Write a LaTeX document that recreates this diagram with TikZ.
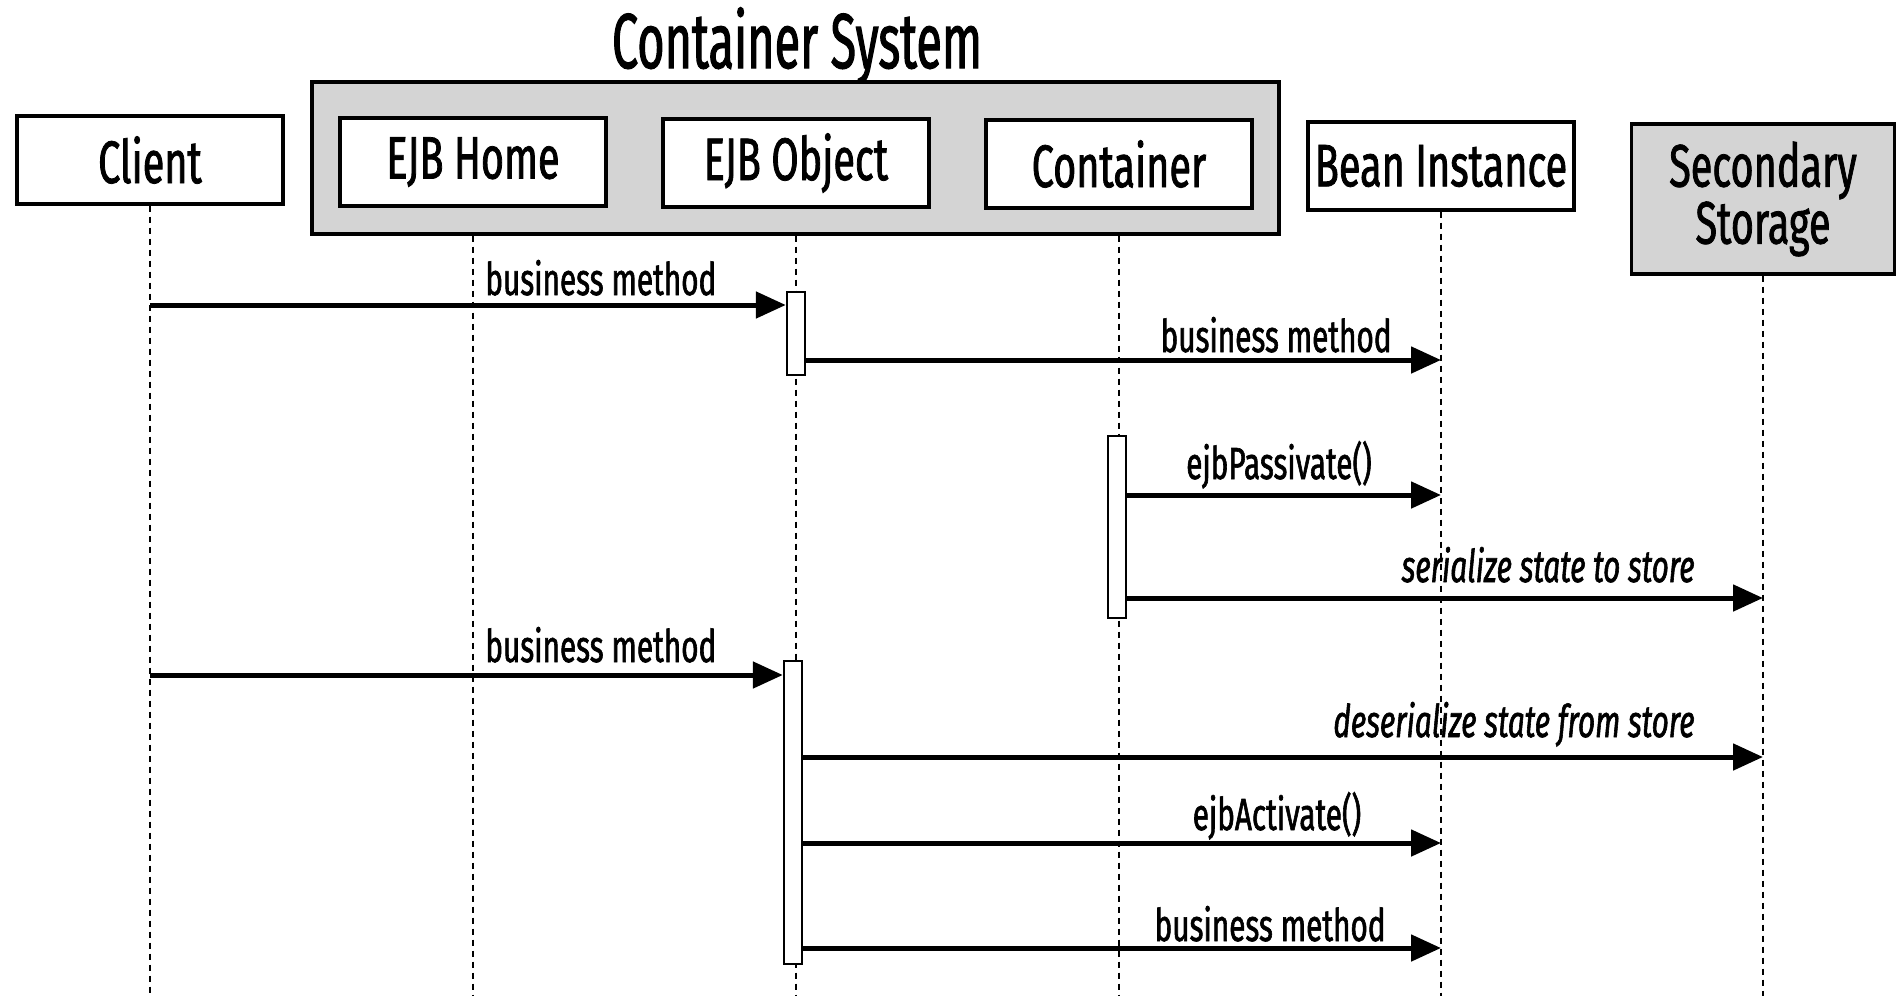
\documentclass[tikz,border=0pt]{standalone}
\usepackage{fontspec}
\setmainfont{Fira Sans}[FakeStretch=0.66, FakeBold=1.3]
\newfontfamily\titlefont{Fira Sans}[FakeStretch=0.6, FakeBold=1.3]
\usetikzlibrary{arrows.meta}
\definecolor{boxgray}{RGB}{212,212,212}
\begin{document}
\begin{tikzpicture}[x=0.5pt,y=-0.5pt,
  obj/.style={draw, line width=1.6pt, fill=white, minimum width=133pt, minimum height=44pt, inner sep=0pt, font=\fontsize{30}{31}\selectfont},
  frame/.style={draw, line width=1.6pt, fill=boxgray, inner sep=0pt},
  life/.style={line width=0.8pt, dash pattern=on 3pt off 2.5pt},
  act/.style={draw, line width=1.2pt, fill=white, minimum width=9pt, inner sep=0pt},
  msg/.style={line width=2.5pt, -{Triangle[length=15pt,width=13pt]}},
  lbl/.style={font=\fontsize{22.5}{24}\selectfont, inner sep=0pt},
  ilbl/.style={font=\fontsize{22.5}{24}\selectfont\itshape, inner sep=0pt}]
\useasboundingbox[fill=white] (0,0) rectangle (1901,996);
% title and container frame
\node[font=\titlefont\fontsize{39}{40}\selectfont, inner sep=0pt] (title) at (797,46) {Container System};
\node[frame, minimum width=483.5pt, minimum height=76pt] (sys) at (795.5,158) {};
% participants
\node[obj] (client) at (150,160) {Client};
\node[obj] (home) at (473,162) {EJB Home};
\node[obj] (ejbobj) at (796,163) {EJB Object};
\node[obj] (cont) at (1119,164) {Container};
\node[obj] (bean) at (1441,166) {Bean Instance};
\node[obj, fill=boxgray, minimum width=131.5pt, minimum height=75pt, align=center, font=\fontsize{30}{28.5}\selectfont] (store) at (1763,199) {Secondary\\Storage};
% lifelines
\coordinate (clientEnd) at (148,996);
\coordinate (homeEnd) at (469,996);
\coordinate (objEnd) at (794,996);
\coordinate (contEnd) at (1115,996);
\coordinate (beanEnd) at (1439,996);
\coordinate (storeEnd) at (1762,996);
\draw[life] (client.south) -- (client.south |- clientEnd);
\draw[life] (sys.south -| home.south) -- (home.south |- homeEnd);
\draw[life] (sys.south -| ejbobj.south) -- (ejbobj.south |- objEnd);
\draw[life] (sys.south -| cont.south) -- (cont.south |- contEnd);
\draw[life] (bean.south) -- (bean.south |- beanEnd);
\draw[life] (store.south) -- (store.south |- storeEnd);
% activation bars
\node[act, minimum height=41.5pt] (a1) at (796,333.5) {};
\node[act, minimum height=91pt] (a2) at (1117,527) {};
\node[act, minimum height=151.5pt] (a3) at (793,812.5) {};
% messages
\draw[msg] (client.south |- 0,305) -- (a1.west |- 0,305);
\node[lbl, anchor=base west] (l1) at (485,295) {business method};
\draw[msg] (a1.east |- 0,360) -- (bean.south |- 0,360);
\node[lbl, anchor=base east] (l2) at (1392,352) {business method};
\draw[msg] (a2.east |- 0,495) -- (bean.south |- 0,495);
\node[lbl, anchor=base] (l3) at (1279,479) {ejbPassivate()};
\draw[msg] (a2.east |- 0,598) -- (store.south |- 0,598);
\node[ilbl, anchor=base east] (l4) at (1695,582) {serialize state to store};
\draw[msg] (client.south |- 0,675) -- (a3.west |- 0,675);
\node[lbl, anchor=base west] (l5) at (485,662) {business method};
\draw[msg] (a3.east |- 0,757) -- (store.south |- 0,757);
\node[ilbl, anchor=base east] (l6) at (1695,737) {deserialize state from store};
\draw[msg] (a3.east |- 0,843) -- (bean.south |- 0,843);
\node[lbl, anchor=base] (l7) at (1277,830) {ejbActivate()};
\draw[msg] (a3.east |- 0,948) -- (bean.south |- 0,948);
\node[lbl, anchor=base east] (l8) at (1386,941) {business method};
\end{tikzpicture}
\end{document}
